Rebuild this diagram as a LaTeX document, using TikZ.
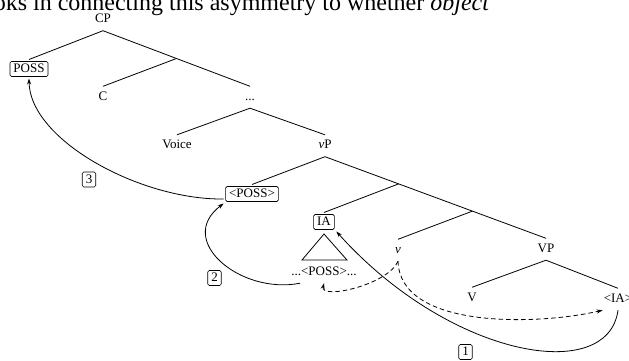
\documentclass[tikz,border=0pt]{standalone}
\usepackage{fontspec}
\setmainfont{Liberation Serif}
\usetikzlibrary{arrows.meta, calc}

\begin{document}
\begin{tikzpicture}[x=1pt, y=-1pt,
        lbl/.style={font=\fontsize{13}{15}\selectfont, anchor=base, text height=8.5pt, text depth=3pt, inner xsep=1pt, inner ysep=5pt},
        tag/.style={draw, rounded corners=1.5pt, line width=0.6pt, font=\fontsize{13}{15}\selectfont, text height=9pt, text depth=2pt, inner xsep=3.5pt, inner ysep=2pt, outer sep=2pt},
        branch/.style={line width=0.8pt},
        move/.style={line width=0.8pt, -{Stealth[length=6pt, width=4pt]}},
        agree/.style={move, dash pattern=on 4.5pt off 3pt}
    ]
        \useasboundingbox (0,0) rectangle (629,361);

        \node[anchor=base east, font=\fontsize{24}{26}\selectfont] (runon) at (493,10.5) {oks in connecting this asymmetry to whether \textit{object}};

        % upper part of the tree
        \node[lbl] (cp) at (103,22.5) {CP};
        \node[tag] (poss) at (29,69) {POSS};
        \node[lbl] (c) at (103,100) {C};
        \node[lbl] (dots) at (250,100) {...};
        \coordinate (cbar) at ($(cp.south)!0.5!(dots.north)$);
        \node[lbl] (voice) at (177,148.5) {Voice};
        \node[lbl] (vp) at (325,148.5) {\textit{v}P};

        % lower part
        \node[tag] (possb) at (252,194) {<POSS>};
        \node[tag] (ia) at (324,222) {IA};
        \node[lbl] (possc) at (324,275) {...<POSS>...};
        \node[lbl] (v) at (398,253) {\textit{v}};
        \node[lbl] (bigvp) at (546,252) {VP};
        \node[lbl] (verb) at (472,301) {V};
        \node[lbl] (iab) at (618,302) {<IA>};
        \coordinate (vbar) at ($(vp.south)!0.333!(bigvp.north)$);
        \coordinate (vbarb) at ($(vp.south)!0.667!(bigvp.north)$);

        \draw[branch] (cp.south) -- (poss.north);
        \draw[branch] (cp.south) -- (dots.north);
        \draw[branch] (cbar) -- (c.north);
        \draw[branch] (dots.south) -- (voice.north);
        \draw[branch] (dots.south) -- (vp.north);
        \draw[branch] (vp.south) -- (possb.north);
        \draw[branch] (vp.south) -- (bigvp.north);
        \draw[branch] (vbar) -- (ia.north);
        \draw[branch] (vbarb) -- (v.north);
        \draw[branch] (bigvp.south) -- (verb.north);
        \draw[branch] (bigvp.south) -- (iab.north);
        \draw[branch] (324,234) -- (302,260) -- (347,260) -- cycle;

        % movement steps
        \draw[move] (iab.south) .. controls (608,385) and (450,358) .. (ia.south east);
        \node[tag] (step1) at (465.5,352) {1};
        \draw[move] ([xshift=10pt]possc.south west) .. controls (240,295) and (175,240) .. (possb.south west);
        \node[tag] (step2) at (214.5,278) {2};
        \draw[move] ([yshift=-5pt]possb.west) .. controls (140,200) and (30,140) .. (poss.south);
        \node[tag] (step3) at (89,179.5) {3};

        % agree
        \draw[agree] (v.south) .. controls (388,285) and (320,300) .. (possc.south);
        \draw[agree] (v.south) .. controls (400,330) and (540,325) .. (iab.south west);
    \end{tikzpicture}
\end{document}
